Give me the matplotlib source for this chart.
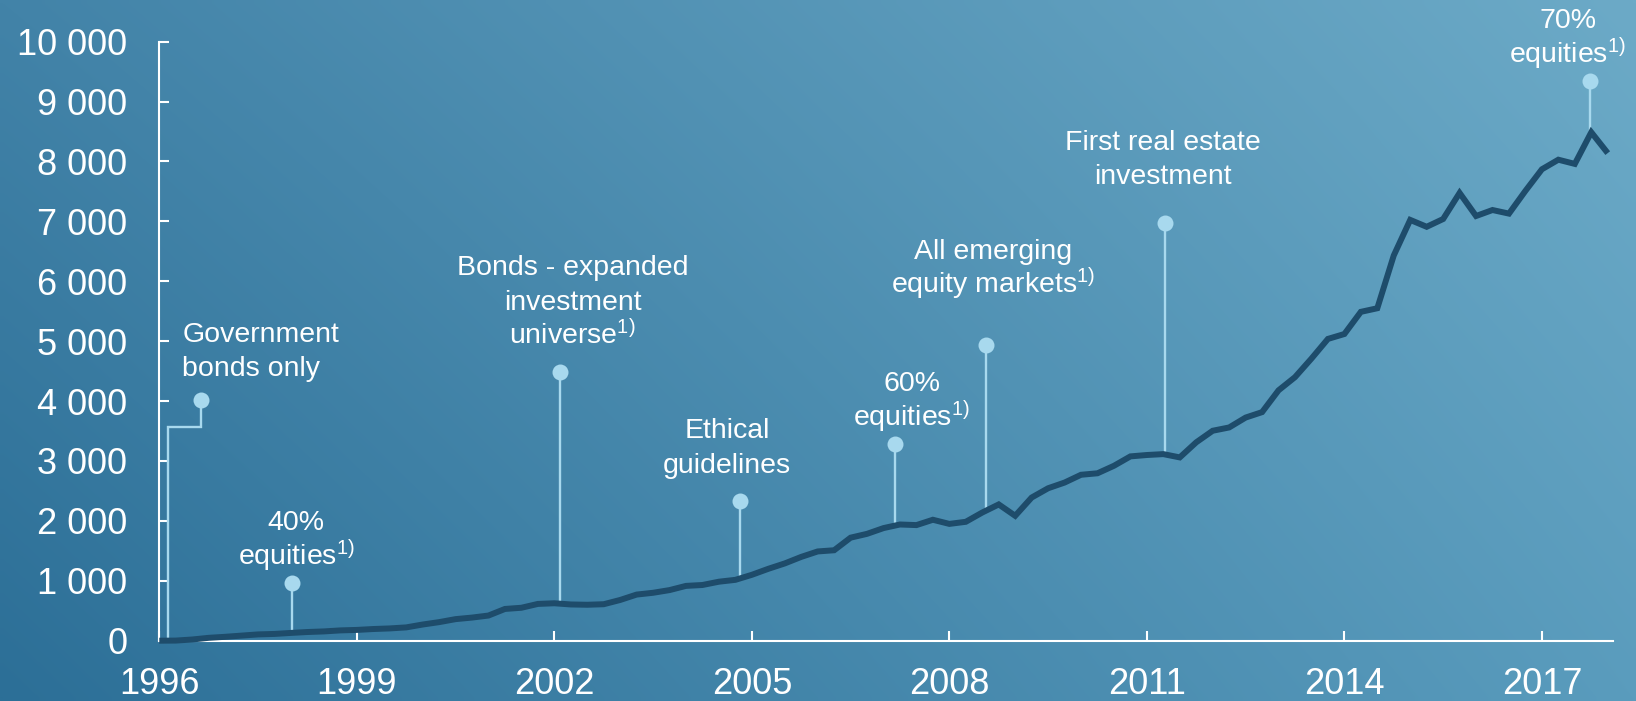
import numpy as np
import matplotlib
matplotlib.use("Agg")
import matplotlib.pyplot as plt
from matplotlib.transforms import offset_copy

plt.rcParams['font.family'] = ['Liberation Sans', 'DejaVu Sans']
plt.rcParams['mathtext.fontset'] = 'custom'
plt.rcParams['mathtext.rm'] = 'Liberation Sans'
plt.rcParams['mathtext.default'] = 'regular'

# ---------------- data ----------------
# Quarterly fund value (NOK bn), 1996 Q1 .. 2018 Q1
values = [
    0, 2, 20, 48,
    65, 85, 105, 113,
    130, 145, 155, 172,
    180, 195, 205, 222,
    270, 310, 360, 386,
    420, 530, 550, 614,
    625, 605, 600, 609,
    680, 770, 800, 845,
    915, 930, 985, 1016,
    1100, 1200, 1290, 1399,
    1490, 1510, 1720, 1784,
    1880, 1940, 1930, 2019,
    1950, 1985, 2140, 2275,
    2085, 2390, 2545, 2640,
    2770, 2795, 2920, 3077,
    3100, 3115, 3060, 3312,
    3505, 3560, 3725, 3816,
    4180, 4400, 4710, 5038,
    5120, 5490, 5550, 6431,
    7025, 6910, 7040, 7475,
    7090, 7190, 7130, 7510,
    7870, 8030, 7960, 8488,
    8140,
]
quarters = np.arange(len(values)) / 4 + 1996

x_ticks = [1996, 1999, 2002, 2005, 2008, 2011, 2014, 2017]
y_ticks = [0, 1000, 2000, 3000, 4000, 5000, 6000, 7000, 8000, 9000, 10000]
y_tick_labels = ['0', '1 000', '2 000', '3 000', '4 000', '5 000',
                 '6 000', '7 000', '8 000', '9 000', '10 000']

# annotation labels, marker position (year, value), text anchor (year, first baseline value)
ann_labels = [
    ['Government', 'bonds only'],
    ['40%', 'equities$^{1)}$'],
    ['Bonds - expanded', 'investment', 'universe$^{1)}$'],
    ['Ethical', 'guidelines'],
    ['60%', 'equities$^{1)}$'],
    ['All emerging', 'equity markets$^{1)}$'],
    ['First real estate', 'investment'],
    ['70%', 'equities$^{1)}$'],
]
ann_marker_x = [1996.64, 1998.01, 2002.09, 2004.82, 2007.18, 2008.56, 2011.27, 2017.73]
ann_marker_y = [4020, 960, 4480, 2336, 3292, 4930, 6968, 9349]
ann_text_x = [1996.35, 1998.08, 2002.28, 2004.62, 2007.43, 2008.66, 2011.25, 2017.39]
ann_text_y = [4992, 1840, 6097, 3381, 4163, 6376, 8192, 10224]
ann_ha = ['left', 'center', 'center', 'center', 'center', 'center', 'center', 'center']
# first annotation has an elbow connector down to the start of the line
gov_elbow_y = 3565
gov_elbow_x = 1996.13

# ---------------- figure ----------------
W, H, DPI = 1636, 701, 100
fig = plt.figure(figsize=(W / DPI, H / DPI), dpi=DPI)

# background gradient (bilinear between four corners)
tl = np.array([66, 131, 168]) / 255
tr = np.array([108, 170, 199]) / 255
bl = np.array([44, 111, 151]) / 255
br = np.array([90, 156, 189]) / 255
ny, nx = 100, 240
u = np.linspace(0, 1, nx)[None, :, None]
v = np.linspace(0, 1, ny)[:, None, None]
grad = (1 - v) * ((1 - u) * tl + u * tr) + v * ((1 - u) * bl + u * br)
bg = fig.add_axes([0, 0, 1, 1])
bg.imshow(grad, aspect='auto', extent=[0, 1, 0, 1], interpolation='bilinear')
bg.set_axis_off()

left, right = 159.3 / W, 1613 / W
bottom, top = 1 - 640.7 / H, 1 - 41.7 / H
ax = fig.add_axes([left, bottom, right - left, top - bottom])
ax.set_facecolor('none')
ax.set_xlim(1996, 2018.08)
ax.set_ylim(0, 10000)

for s in ['top', 'right']:
    ax.spines[s].set_visible(False)
for s in ['left', 'bottom']:
    ax.spines[s].set_color('white')
    ax.spines[s].set_linewidth(1.5)

ax.set_xticks(x_ticks)
ax.set_xticklabels([str(t) for t in x_ticks])
ax.set_yticks(y_ticks)
ax.set_yticklabels(y_tick_labels)
ax.tick_params(axis='both', direction='in', length=7.5, width=1.5, color='white',
               labelcolor='white', labelsize=26)
ax.tick_params(axis='x', pad=19)
ax.tick_params(axis='y', pad=23)

line_color = '#1e4c6b'
stem_color = '#a8d9ee'
ax.plot(quarters, values, color=line_color, lw=4.3, solid_joinstyle='miter',
        solid_capstyle='butt', zorder=3, clip_on=False)

pitch_px = 34.5
for i, lines in enumerate(ann_labels):
    mx, my = ann_marker_x[i], ann_marker_y[i]
    if i == 0:
        y_end = np.interp(gov_elbow_x, quarters, values)
        ax.plot([mx, mx, gov_elbow_x, gov_elbow_x], [my, gov_elbow_y, gov_elbow_y, y_end],
                color=stem_color, lw=1.7, zorder=2, solid_joinstyle='miter')
    else:
        y_end = np.interp(mx, quarters, values)
        ax.plot([mx, mx], [my, y_end], color=stem_color, lw=1.7, zorder=2)
    ax.plot([mx], [my], 'o', ms=11.5, color=stem_color, mec='none', zorder=4, clip_on=False)
    for j, txt in enumerate(lines):
        tr_ = offset_copy(ax.transData, fig=fig, x=0, y=-j * pitch_px, units='dots')
        ax.text(ann_text_x[i], ann_text_y[i], txt, transform=tr_, ha=ann_ha[i],
                va='baseline', color='white', fontsize=20.5, clip_on=False, zorder=5)

fig.savefig('out.png', dpi=DPI)
